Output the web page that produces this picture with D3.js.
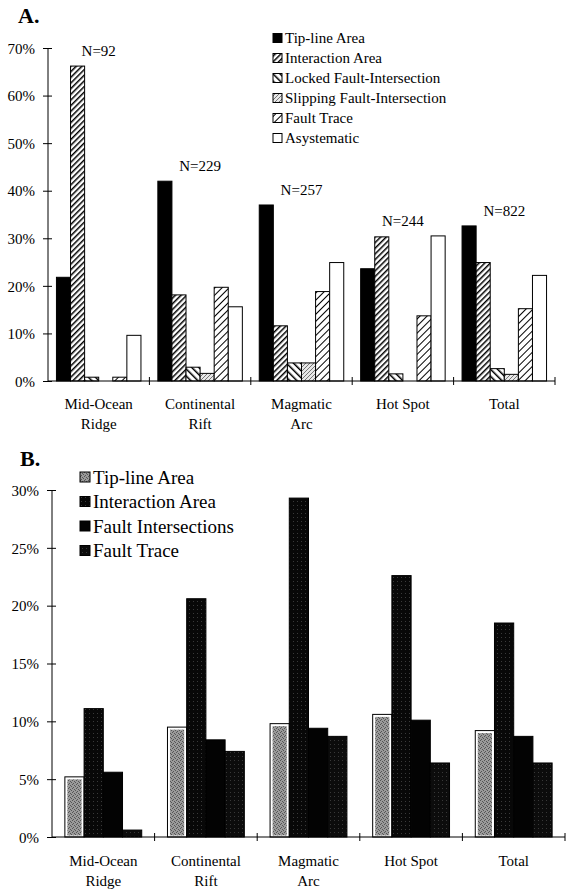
<!DOCTYPE html>
<html>
<head>
<meta charset="utf-8">
<script src="https://cdn.jsdelivr.net/npm/d3@7"></script>
<style>
  body { margin: 0; background: #fff; }
  svg text { font-family: "Liberation Serif", "Times New Roman", "DejaVu Serif", serif; }
</style>
</head>
<body>
<svg id="chart" width="566" height="890"></svg>
<script>
// --- data ---
const categories = ["Mid-Ocean|Ridge", "Continental|Rift", "Magmatic|Arc", "Hot Spot", "Total"];

const seriesA = ["Tip-line Area", "Interaction Area", "Locked Fault-Intersection",
  "Slipping Fault-Intersection", "Fault Trace", "Asystematic"];
const tipA = [21.8, 42.0, 37.0, 23.6, 32.6];
const interactionA = [66.2, 18.1, 11.6, 30.3, 24.9];
const lockedA = [0.8, 2.9, 3.8, 1.5, 2.6];
const slippingA = [0, 1.6, 3.8, 0, 1.4];
const traceA = [0.8, 19.7, 18.8, 13.7, 15.2];
const asysA = [9.6, 15.6, 24.9, 30.5, 22.2];
const countsA = ["N=92", "N=229", "N=257", "N=244", "N=822"];
const ticksA = [0, 10, 20, 30, 40, 50, 60, 70];

const seriesB = ["Tip-line Area", "Interaction Area", "Fault Intersections", "Fault Trace"];
const tipB = [5.2, 9.5, 9.8, 10.6, 9.2];
const interactionB = [11.1, 20.6, 29.3, 22.6, 18.5];
const intersectB = [5.6, 8.4, 9.4, 10.1, 8.7];
const traceB = [0.6, 7.4, 8.7, 6.4, 6.4];
const ticksB = [0, 5, 10, 15, 20, 25, 30];

const valuesA = [tipA, interactionA, lockedA, slippingA, traceA, asysA];
const valuesB = [tipB, interactionB, intersectB, traceB];

const FONT = "Liberation Serif, Times New Roman, serif";
const svg = d3.select("#chart");
const defs = svg.append("defs");

// hatch patterns
function hatch(id, size, angle, sw, bg) {
  const p = defs.append("pattern").attr("id", id)
    .attr("patternUnits", "userSpaceOnUse")
    .attr("width", size).attr("height", size)
    .attr("patternTransform", `rotate(${angle})`);
  p.append("rect").attr("width", size).attr("height", size).attr("fill", bg);
  p.append("line").attr("x1", 0).attr("y1", 0).attr("x2", 0).attr("y2", size)
    .attr("stroke", "#000").attr("stroke-width", sw);
}
hatch("hInter", 4, 45, 3, "#fff");
hatch("hLocked", 5, -45, 3, "#fff");
hatch("hTrace", 5, 45, 2, "#fff");

function stipple(id, bg, dots, dotColor) {
  const p = defs.append("pattern").attr("id", id)
    .attr("patternUnits", "userSpaceOnUse").attr("width", 4).attr("height", 4);
  p.append("rect").attr("width", 4).attr("height", 4).attr("fill", bg);
  dots.forEach(d => p.append("rect").attr("x", d[0]).attr("y", d[1])
    .attr("width", 1).attr("height", 1).attr("fill", dotColor));
}
stipple("sSlip", "#e8e8e8", [[0, 0], [2, 2], [1, 3], [3, 1]], "#777");
stipple("sTipB", "#9a9a9a", [[0, 0], [2, 1], [1, 3], [3, 2]], "#555");
stipple("sInterB", "#080808", [[1, 1]], "#3a3a3a");
stipple("sTraceB", "#0c0c0c", [[2, 0]], "#383838");

const fillsA = ["#000", "url(#hInter)", "url(#hLocked)", "url(#sSlip)", "url(#hTrace)", "#fff"];
const fillsB = ["url(#sTipB)", "url(#sInterB)", "#030303", "url(#sTraceB)"];

function drawPanel(cfg) {
  const g = svg.append("g");
  const x0 = d3.scaleBand().domain(categories).range([cfg.left, cfg.right]).padding(0);
  const x1 = d3.scaleBand().domain(d3.range(cfg.series.length))
    .range([0, x0.bandwidth()]).paddingInner(0).paddingOuter(cfg.outer);
  const y = d3.scaleLinear().domain([0, d3.max(cfg.ticks)]).range([cfg.bottom, cfg.top]);

  // bars
  categories.forEach((c, ci) => {
    cfg.values.forEach((vals, si) => {
      const v = vals[ci];
      if (v <= 0) return;
      const bx = x0(c) + x1(si);
      g.append("rect")
        .attr("x", bx).attr("y", y(v))
        .attr("width", x1.bandwidth()).attr("height", y(0) - y(v))
        .attr("fill", cfg.inset && si === 0 ? "#fff" : cfg.fills[si])
        .attr("stroke", "#000").attr("stroke-width", 1);
      if (cfg.inset && si === 0 && y(0) - y(v) > 6) {
        g.append("rect")
          .attr("x", bx + 2.5).attr("y", y(v) + 2.5)
          .attr("width", x1.bandwidth() - 5).attr("height", y(0) - y(v) - 4)
          .attr("fill", cfg.fills[si]);
      }
    });
  });

  // y axis
  const yAxis = g.append("g").attr("transform", `translate(${cfg.left},0)`)
    .call(d3.axisLeft(y).tickValues(cfg.ticks).tickSize(5).tickPadding(8)
      .tickFormat(d => d + "%"));
  yAxis.attr("font-family", FONT);
  yAxis.select(".domain").attr("d", `M0,${y(0)}V${y(d3.max(cfg.ticks))}`).attr("stroke", "#000");
  yAxis.selectAll(".tick line").attr("x1", 4).attr("stroke", "#000");
  yAxis.selectAll(".tick text").attr("font-size", cfg.tickFont).attr("fill", "#000")
    .attr("font-family", FONT).attr("dy", "0.35em");

  // x axis
  g.append("line").attr("x1", cfg.left).attr("x2", cfg.right)
    .attr("y1", y(0)).attr("y2", y(0)).attr("stroke", "#000");
  categories.forEach(c => {
    const xx = x0(c) + x0.bandwidth();
    g.append("line").attr("x1", xx).attr("x2", xx)
      .attr("y1", y(0) - 4).attr("y2", y(0) + 4).attr("stroke", "#000");
    const lines = c.split("|");
    lines.forEach((t, li) => {
      g.append("text").attr("x", x0(c) + x0.bandwidth() / 2)
        .attr("y", y(0) + cfg.labelOffset + li * 20)
        .attr("text-anchor", "middle").attr("font-family", FONT)
        .attr("font-size", cfg.tickFont).text(t);
    });
  });

  // panel title
  g.append("text").attr("x", cfg.titleX).attr("y", cfg.titleY)
    .attr("font-family", FONT)
    .attr("font-size", 22).attr("font-weight", "bold").text(cfg.title);

  // legend
  const lg = g.append("g");
  cfg.series.forEach((s, i) => {
    const cy = cfg.legY + i * cfg.legStep;
    lg.append("rect").attr("x", cfg.legX).attr("y", cy - cfg.sw / 2)
      .attr("width", cfg.sw).attr("height", cfg.sw)
      .attr("fill", cfg.fills[i]).attr("stroke", "#000").attr("stroke-width", 1);
    lg.append("text").attr("x", cfg.legX + cfg.sw + 3).attr("y", cy)
      .attr("dy", "0.35em").attr("font-family", FONT)
      .attr("font-size", cfg.legFont).text(s);
  });
  return { x0, y };
}

const pa = drawPanel({
  series: seriesA, values: valuesA, fills: fillsA, ticks: ticksA,
  left: 48, right: 555, top: 48, bottom: 381, outer: 0.6,
  labelOffset: 28, title: "A.", titleX: 18, titleY: 23, tickFont: 15,
  legX: 273, legY: 38, legStep: 20, sw: 9, legFont: 15
});

// N labels above each group
categories.forEach((c, ci) => {
  const top = d3.max(valuesA, v => v[ci]);
  svg.append("text").attr("x", pa.x0(c) + pa.x0.bandwidth() / 2)
    .attr("y", pa.y(top) - 10).attr("text-anchor", "middle")
    .attr("font-family", FONT).attr("font-size", 15).text(countsA[ci]);
});

drawPanel({
  series: seriesB, values: valuesB, fills: fillsB, ticks: ticksB, inset: true,
  left: 52, right: 565, top: 490, bottom: 837, outer: 0.67,
  labelOffset: 29, title: "B.", titleX: 20, titleY: 466, tickFont: 15,
  legX: 80, legY: 477, legStep: 24.5, sw: 10, legFont: 19
});
</script>
</body>
</html>
